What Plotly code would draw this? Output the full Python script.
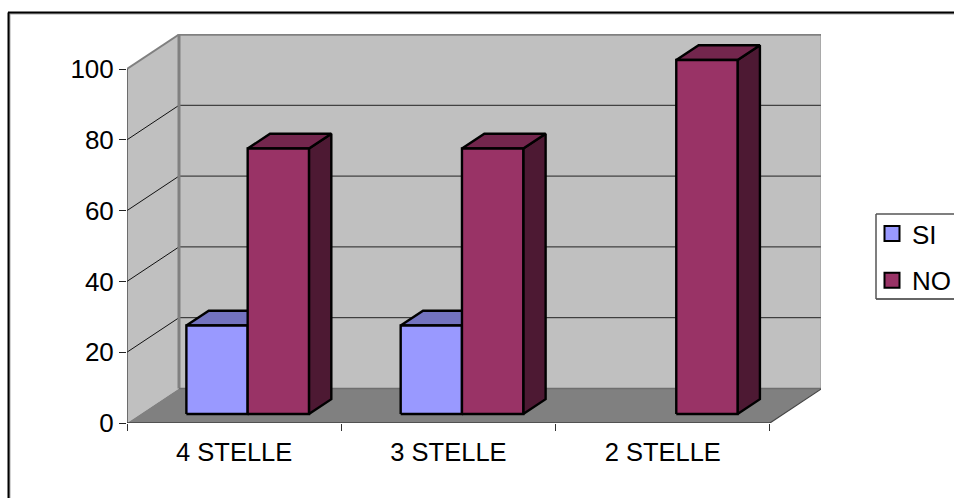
import plotly.graph_objects as go

# Survey results by hotel class
CATEGORIES = ["4 STELLE", "3 STELLE", "2 STELLE"]
SI_VALUES = [25, 25, 0]
NO_VALUES = [75, 75, 100]
Y_TICKS = [0, 20, 40, 60, 80, 100]

# Pixel scale of the plot area
PX_PER_CATEGORY = 214.3
PX_PER_UNIT = 3.54
LEFT, BOTTOM, PLOT_W, PLOT_H = 127, 423, 694, 389

# Oblique projection: one step of full depth moves this far along each axis
DEPTH_X = 52 / PX_PER_CATEGORY
DEPTH_Y = 34.5 / PX_PER_UNIT

# Where the bars sit along the depth axis, and their width per category
BAR_DEPTH_FRONT = 0.26
BAR_DEPTH_BACK = 0.69
BAR_WIDTH = 0.286

WALL = "#C0C0C0"
FLOOR = "#808080"
EDGE = "#808080"
INK = "#000000"
SI_FACES = ("#9999FF", "#7373BF", "#4D4D80")
NO_FACES = ("#993366", "#73264D", "#4D1933")


def project(x, depth, value):
    return x + depth * DEPTH_X, value + depth * DEPTH_Y


def polygon(points, fill, line=None, width=0):
    xs = [p[0] for p in points]
    ys = [p[1] for p in points]
    return go.Scatter(
        x=xs + xs[:1], y=ys + ys[:1], mode="lines", fill="toself", fillcolor=fill,
        line=dict(color=line or fill, width=width), hoverinfo="skip", showlegend=False,
    )


def segment(a, b, color, width):
    return go.Scatter(
        x=[a[0], b[0]], y=[a[1], b[1]], mode="lines",
        line=dict(color=color, width=width), hoverinfo="skip", showlegend=False,
    )


def box(x0, x1, value, faces):
    front, top, side = faces
    a, b = BAR_DEPTH_FRONT, BAR_DEPTH_BACK
    return [
        polygon([project(x1, a, 0), project(x1, b, 0), project(x1, b, value), project(x1, a, value)],
                side, INK, 2.4),
        polygon([project(x0, a, value), project(x1, a, value), project(x1, b, value), project(x0, b, value)],
                top, INK, 2.4),
        polygon([project(x0, a, 0), project(x1, a, 0), project(x1, a, value), project(x0, a, value)],
                front, INK, 2.4),
    ]


def page_line(x0, y0, x1, y1, color, width):
    # Line given in page pixels, converted to plot-area fractions
    return dict(
        type="line", xref="paper", yref="paper",
        x0=(x0 - LEFT) / PLOT_W, x1=(x1 - LEFT) / PLOT_W,
        y0=(BOTTOM - y0) / PLOT_H, y1=(BOTTOM - y1) / PLOT_H,
        line=dict(color=color, width=width),
    )


fig = go.Figure()
n = len(CATEGORIES)
top_value = Y_TICKS[-1]

# Chart walls and floor
fig.add_trace(polygon([project(0, 0, 0), project(0, 1, 0), project(0, 1, top_value), project(0, 0, top_value)], WALL))
fig.add_trace(polygon([project(0, 1, 0), project(n, 1, 0), project(n, 1, top_value), project(0, 1, top_value)], WALL))
fig.add_trace(polygon([project(0, 0, 0), project(n, 0, 0), project(n, 1, 0), project(0, 1, 0)], FLOOR))

# Gridlines folding from the side wall onto the back wall
for v in Y_TICKS[1:-1]:
    fig.add_trace(segment(project(0, 0, v), project(0, 1, v), "#111111", 1))
    fig.add_trace(segment(project(0, 1, v), project(n, 1, v), "#222222", 1))

# Wall edges
fig.add_trace(segment(project(0, 1, 0), project(0, 1, top_value), EDGE, 3))
fig.add_trace(segment(project(0, 1, top_value), project(n, 1, top_value), EDGE, 2.5))
fig.add_trace(segment(project(n, 1, 0), project(n, 1, top_value), EDGE, 2.5))
fig.add_trace(segment(project(0, 0, top_value), project(0, 1, top_value), EDGE, 2))
fig.add_trace(segment(project(0, 1, 0), project(n, 1, 0), "#6E6E6E", 1.5))

# Front axis lines
fig.add_trace(segment(project(0, 0, 0), project(0, 0, top_value), "#333333", 1.2))
fig.add_trace(segment(project(0, 0, 0), project(n, 0, 0), "#222222", 1.2))
fig.add_trace(segment(project(n, 0, 0), project(n, 1, 0), "#444444", 1.2))

# Clustered bars, skipping empty values
for i, (si, no) in enumerate(zip(SI_VALUES, NO_VALUES)):
    mid = i + 0.5
    if si > 0:
        for t in box(mid - BAR_WIDTH, mid, si, SI_FACES):
            fig.add_trace(t)
    if no > 0:
        for t in box(mid, mid + BAR_WIDTH, no, NO_FACES):
            fig.add_trace(t)

# Legend entries, one group each so the group gap sets their spacing
for name, faces in (("SI", SI_FACES), ("NO", NO_FACES)):
    fig.add_trace(go.Scatter(
        x=[None], y=[None], mode="markers", name=name, legendgroup=name,
        marker=dict(symbol="square", size=15, color=faces[0], line=dict(color=INK, width=2)),
    ))

FONT = "Liberation Sans"
fig.update_layout(
    width=954, height=498,
    margin=dict(l=LEFT, r=954 - LEFT - PLOT_W, t=BOTTOM - PLOT_H, b=498 - BOTTOM),
    paper_bgcolor="white", plot_bgcolor="rgba(0,0,0,0)",
    font=dict(family=FONT, size=25, color="#000000"),
    xaxis=dict(
        range=[0, PLOT_W / PX_PER_CATEGORY], showgrid=False, zeroline=False, showline=False,
        tickmode="array", tickvals=[i + 0.5 for i in range(n)], ticktext=CATEGORIES,
        ticks="", ticklabelstandoff=11, tickfont=dict(size=25.5),
        minor=dict(tickmode="array", tickvals=list(range(n + 1)), ticks="outside", ticklen=7,
                   tickwidth=1, tickcolor="#333333", showgrid=False),
    ),
    yaxis=dict(
        range=[0, PLOT_H / PX_PER_UNIT], showgrid=False, zeroline=False, showline=False,
        tickmode="array", tickvals=Y_TICKS, ticks="outside", ticklen=7, tickwidth=1,
        tickcolor="#222222", tickfont=dict(size=26),
    ),
    legend=dict(
        x=872 / 954, xanchor="left", y=1 - 210 / 498, yanchor="top",
        xref="container", yref="container",
        bgcolor="rgba(0,0,0,0)", borderwidth=0, tracegroupgap=10,
        font=dict(size=26), itemwidth=30,
    ),
    shapes=[
        # Outer frame, open on the right and bottom
        page_line(9.5, 498, 9.5, 13.5, "#A8A8A8", 2),
        page_line(9.5, 13.5, 954, 13.5, "#A8A8A8", 2),
        page_line(8.5, 498, 8.5, 12.5, "#000000", 2),
        page_line(8, 12.5, 954, 12.5, "#000000", 2),
        # Legend box, running off the right side
        page_line(876, 214, 954, 214, "#555555", 1.5),
        page_line(876, 299, 954, 299, "#333333", 1.5),
        page_line(876, 214, 876, 299, "#555555", 1.5),
    ],
)

fig.write_html("out.html")
